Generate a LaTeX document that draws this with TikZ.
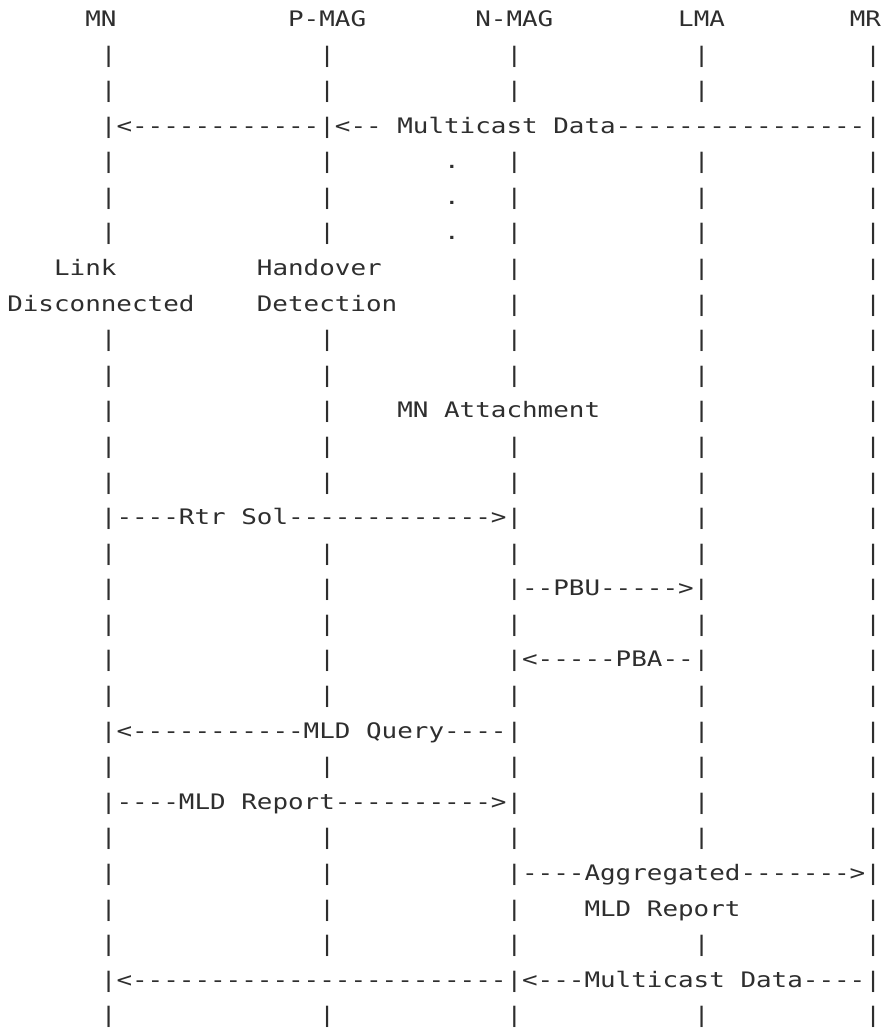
\documentclass[tikz,border=0pt]{standalone}
\usepackage{fontspec}
\setmonofont{DejaVu Sans Mono}
\definecolor{ink}{HTML}{2E2E2E}
% n blank columns of the monospace grid
\newcommand\colgap[1]{\kern#1\fontcharwd\font32\relax}
\newcommand\pipes{\colgap{6}|\colgap{13}|\colgap{11}|\colgap{11}|\colgap{10}|}
\tikzset{
  asc/.style={anchor=base west, inner sep=0pt, outer sep=0pt, text=ink,
    font=\ttfamily\fontsize{16}{16}\selectfont}
}
% one line of the chart: name, row number, content
\newcommand\ascline[3]{\node[asc] (#1) at (7.3,{26.5+(#2-1)*35.58}) {\scalebox{1.2147}[1]{#3}};}
\begin{document}
\begin{tikzpicture}[x=0.75pt,y=-0.75pt]
\fill[white] (0,0) rectangle (881,1032);
\useasboundingbox (0,0) rectangle (881,1032);
\ascline{r1}{1}{\colgap{5}MN\colgap{11}P-MAG\colgap{7}N-MAG\colgap{8}LMA\colgap{8}MR}
\ascline{r2}{2}{\pipes}
\ascline{r3}{3}{\pipes}
\ascline{r4}{4}{\colgap{6}|<------------|<--~Multicast~Data----------------|}
\ascline{r5}{5}{\colgap{6}|\colgap{13}|\colgap{7}.\colgap{3}|\colgap{11}|\colgap{10}|}
\ascline{r6}{6}{\colgap{6}|\colgap{13}|\colgap{7}.\colgap{3}|\colgap{11}|\colgap{10}|}
\ascline{r7}{7}{\colgap{6}|\colgap{13}|\colgap{7}.\colgap{3}|\colgap{11}|\colgap{10}|}
\ascline{r8}{8}{\colgap{3}Link\colgap{9}Handover\colgap{8}|\colgap{11}|\colgap{10}|}
\ascline{r9}{9}{Disconnected\colgap{4}Detection\colgap{7}|\colgap{11}|\colgap{10}|}
\ascline{r10}{10}{\pipes}
\ascline{r11}{11}{\pipes}
\ascline{r12}{12}{\colgap{6}|\colgap{13}|\colgap{4}MN~Attachment\colgap{6}|\colgap{10}|}
\ascline{r13}{13}{\pipes}
\ascline{r14}{14}{\pipes}
\ascline{r15}{15}{\colgap{6}|----Rtr~Sol------------->|\colgap{11}|\colgap{10}|}
\ascline{r16}{16}{\pipes}
\ascline{r17}{17}{\colgap{6}|\colgap{13}|\colgap{11}|--PBU----->|\colgap{10}|}
\ascline{r18}{18}{\pipes}
\ascline{r19}{19}{\colgap{6}|\colgap{13}|\colgap{11}|<-----PBA--|\colgap{10}|}
\ascline{r20}{20}{\pipes}
\ascline{r21}{21}{\colgap{6}|<-----------MLD~Query----|\colgap{11}|\colgap{10}|}
\ascline{r22}{22}{\pipes}
\ascline{r23}{23}{\colgap{6}|----MLD~Report---------->|\colgap{11}|\colgap{10}|}
\ascline{r24}{24}{\pipes}
\ascline{r25}{25}{\colgap{6}|\colgap{13}|\colgap{11}|----Aggregated------->|}
\ascline{r26}{26}{\colgap{6}|\colgap{13}|\colgap{11}|\colgap{4}MLD~Report\colgap{8}|}
\ascline{r27}{27}{\pipes}
\ascline{r28}{28}{\colgap{6}|<------------------------|<---Multicast~Data----|}
\ascline{r29}{29}{\pipes}
\end{tikzpicture}
\end{document}
